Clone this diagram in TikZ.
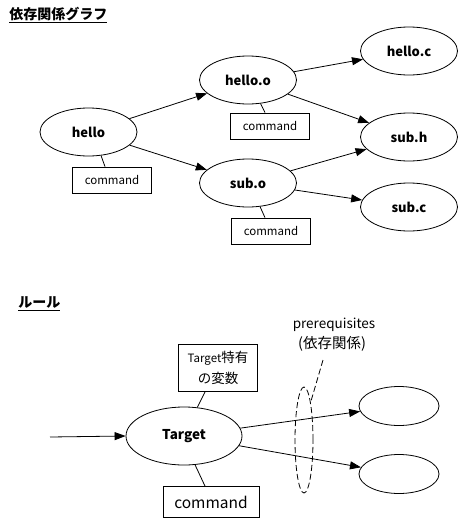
\documentclass[tikz,border=0pt]{standalone}
\usepackage{fontspec}
\setmainfont{Noto Sans CJK JP}
\usetikzlibrary{arrows.meta,shapes.geometric}
\begin{document}
\begin{tikzpicture}[x=1pt,y=-1pt,line width=0.8pt,
 el/.style={ellipse,draw,inner sep=0pt,minimum width=97pt,minimum height=48pt,font=\fontsize{13}{15}\selectfont\bfseries},
 cmd/.style={rectangle,draw,inner sep=0pt,minimum width=79pt,minimum height=26pt,font=\fontsize{11.5}{13}\selectfont},
 arr/.style={-{Triangle[length=11pt,width=8pt]}},
 ttl/.style={anchor=west,inner sep=0pt,font=\fontsize{14}{16}\selectfont\bfseries},
 ]
\useasboundingbox (0,0) rectangle (458,523);
% titles
\node[ttl] (t1) at (9,15) {\underline{依存関係グラフ}};
\node[ttl] (t2) at (18,304) {\underline{ルール}};
% graph
\node[el] (hello) at (88.5,132) {hello};
\node[el] (helloo) at (248,80) {hello.o};
\node[el] (helloc) at (409,51) {hello.c};
\node[el] (subh) at (409,137) {sub.h};
\node[el] (subo) at (248,183) {sub.o};
\node[el] (subc) at (409,207) {sub.c};
\node[cmd] (c1) at (112,180) {command};
\node[cmd] (c2) at (270,126) {command};
\node[cmd] (c3) at (271,231) {command};
\draw[arr] (hello) -- (helloo);
\draw[arr] (hello) -- (subo);
\draw[arr] (helloo) -- (helloc);
\draw[arr] (helloo) -- (subh);
\draw[arr] (subo) -- (subh);
\draw[arr] (subo) -- (subc);
\draw (hello.-62) -- ([xshift=-7pt]c1.north);
\draw (helloo.-62) -- ([xshift=-5pt]c2.north);
\draw (subo.-63) -- ([xshift=-6pt]c3.north);
% rule
\node[el,minimum width=116pt,minimum height=58pt,font=\fontsize{13.5}{15}\selectfont\bfseries] (target) at (184,436) {Target};
\node[cmd,minimum height=47pt,align=center,font=\fontsize{13.5}{21}\selectfont] (vars) at (218,368) {{\fontsize{11.5}{21}\selectfont Target}特有\\の変数};
\node[cmd,minimum width=96pt,minimum height=31pt,font=\fontsize{15.5}{17}\selectfont] (cmd2) at (211,502) {command};
\node[ellipse,draw,inner sep=0pt,minimum width=80pt,minimum height=39pt] (e1) at (399,406) {};
\node[ellipse,draw,inner sep=0pt,minimum width=80pt,minimum height=39pt] (e2) at (399,474) {};
\node[ellipse,draw,dash pattern=on 6pt off 3pt,inner sep=0pt,minimum width=18pt,minimum height=106pt] (d) at (304,440) {};
\coordinate (in) at (50,437);
\draw[arr] (in) -- (target.west);
\draw[arr] (target) -- (e1);
\draw[arr] (target) -- (e2);
\draw (target.65) -- ([xshift=-13pt]vars.south);
\draw (target.-69) -- ([xshift=-6pt]cmd2.north);
\node[inner sep=0pt,font=\fontsize{13.5}{15}\selectfont] (p1) at (334,325) {prerequisites};
\node[inner sep=0pt,font=\fontsize{14.5}{16}\selectfont] (p2) at (332,344) {(依存関係)};
\coordinate (ptip) at (323,360);
\draw[dash pattern=on 6pt off 3pt] (ptip) -- (d.80);
\end{tikzpicture}
\end{document}
